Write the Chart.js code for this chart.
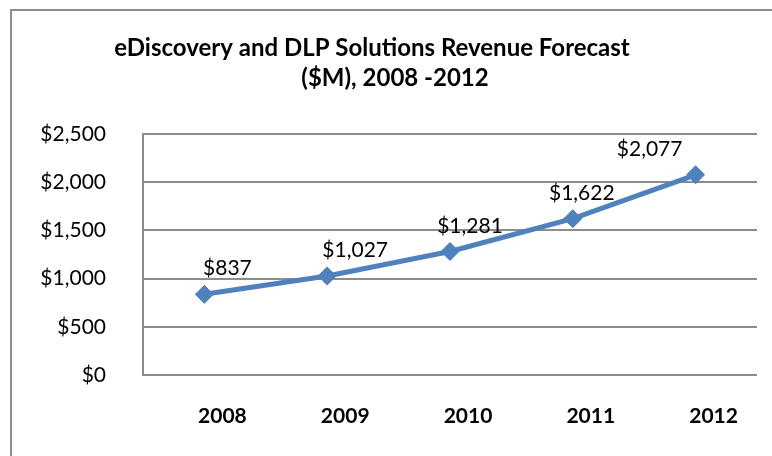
<!DOCTYPE html>
<html>
<head>
<meta charset="utf-8">
<script src="https://cdn.jsdelivr.net/npm/chart.js@4/dist/chart.umd.min.js"></script>
<style>
  html, body { margin: 0; padding: 0; background: #fff; }
  #wrap { width: 772px; height: 456px; }
</style>
</head>
<body>
<div id="wrap"><canvas id="revenue-forecast" width="772" height="456"></canvas></div>
<script>
// data
let YEARS = ["2008", "2009", "2010", "2011", "2012"];
let REVENUE = [837, 1027, 1281, 1622, 2077];
let TITLE_LINES = ["eDiscovery and DLP Solutions Revenue Forecast", "($M), 2008 -2012"];

let BLUE = "#4f81bd";
let GRID = "#8c8c8c";
let FONT = "Lato, 'Open Sans', sans-serif";

function money(v) {
  return "$" + Number(v).toLocaleString("en-US");
}

// outer frame + title, drawn like the excel chart box
var frameAndTitle = {
  id: "frameAndTitle",
  beforeDraw(chart) {
    let c = chart.ctx;
    c.save();
    c.fillStyle = "#fff";
    c.fillRect(0, 0, chart.width, chart.height);
    c.strokeStyle = GRID;
    c.lineWidth = 2;
    c.strokeRect(11, 10, chart.width + 20, chart.height + 20);
    c.restore();
  },
  afterDraw(chart) {
    let c = chart.ctx;
    c.save();
    c.fillStyle = "#000";
    c.textAlign = "center";
    c.textBaseline = "alphabetic";
    c.font = "bold 24px " + FONT;
    c.fillText(TITLE_LINES[0], 372, 56);
    c.fillText(TITLE_LINES[1], 395, 86);
    c.restore();
  }
};

// value labels above the markers
var valueLabels = {
  id: "valueLabels",
  afterDatasetsDraw(chart, args, opts) {
    let c = chart.ctx;
    let meta = chart.getDatasetMeta(0);
    c.save();
    c.fillStyle = "#000";
    c.font = "21px " + FONT;
    c.textAlign = "center";
    c.textBaseline = "alphabetic";
    meta.data.forEach(function (pt, i) {
      let dx = opts.shift[i] || 0;
      c.fillText(money(chart.data.datasets[0].data[i]), pt.x + dx, pt.y - opts.lift);
    });
    c.restore();
  }
};

var ctx = document.getElementById("revenue-forecast").getContext("2d");
var lineChart = new Chart(ctx, {
  type: "line",
  data: {
    labels: YEARS,
    datasets: [{
      data: REVENUE,
      borderColor: BLUE,
      backgroundColor: BLUE,
      borderWidth: 5,
      tension: 0,
      pointStyle: "rectRot",
      pointRadius: 9,
      pointHoverRadius: 9,
      pointBackgroundColor: BLUE,
      pointBorderColor: BLUE,
      pointBorderWidth: 1
    }]
  },
  options: {
    responsive: false,
    animation: false,
    layout: { padding: { top: 134, right: 15, bottom: 0, left: 0 } },
    plugins: {
      legend: { display: false },
      title: { display: false },
      tooltip: { enabled: false },
      valueLabels: { shift: [23, 28, 20, 9, -46], lift: 19 }
    },
    scales: {
      x: {
        offset: true,
        afterFit: function (s) { s.height = 81; },
        grid: { display: false, drawTicks: false },
        border: { display: false },
        ticks: {
          padding: 29,
          labelOffset: 18,
          maxRotation: 0,
          color: "#000",
          font: { family: FONT, size: 21, weight: "bold" }
        }
      },
      y: {
        min: 0,
        max: 2500,
        afterFit: function (s) { s.width = 143; },
        grid: { color: GRID, lineWidth: 2, drawTicks: false },
        border: { display: true, color: GRID, width: 2 },
        ticks: {
          stepSize: 500,
          padding: 37,
          color: "#000",
          font: { family: FONT, size: 21 },
          callback: function (v) { return money(v); }
        }
      }
    }
  },
  plugins: [frameAndTitle, valueLabels]
});
</script>
</body>
</html>
